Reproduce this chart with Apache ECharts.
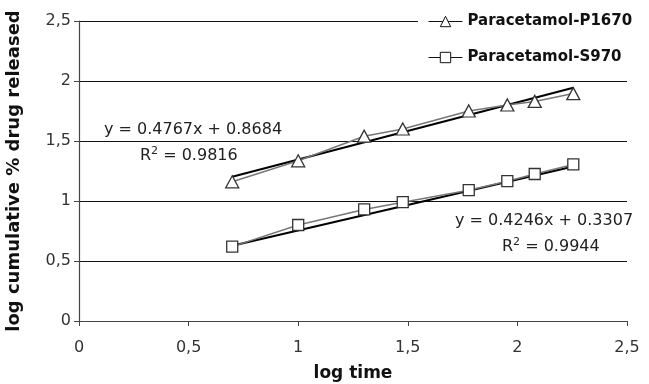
<!DOCTYPE html>
<html>
<head>
<meta charset="utf-8">
<script src="https://cdn.jsdelivr.net/npm/echarts@6/dist/echarts.min.js"></script>
<style>
  html, body { margin: 0; padding: 0; background: #fff; }
  #chart { width: 649px; height: 384px; }
</style>
</head>
<body>
<div id="chart"></div>
<script>
// log of sampling time (5, 10, 20, 30, 60, 90, 120, 180 min)
const logTime = [0.699, 1.0, 1.301, 1.477, 1.778, 1.954, 2.079, 2.255];
const p1670 = [1.16, 1.335, 1.54, 1.60, 1.75, 1.80, 1.83, 1.895];
const s970 = [0.62, 0.80, 0.93, 0.99, 1.09, 1.165, 1.225, 1.305];

// trendline coefficients as printed on the chart
const fitP1670 = { slope: 0.4767, intercept: 0.8684, r2: "0.9816" };
const fitS970 = { slope: 0.4246, intercept: 0.3307, r2: "0.9944" };

const FONT = "DejaVu Sans";

function pairs(xs, ys) {
    return xs.map((x, i) => [x, ys[i]]);
}

// trendline spans the range of the measured points
function trend(fit) {
    const x0 = logTime[0];
    const x1 = logTime[logTime.length - 1];
    return [[x0, fit.slope * x0 + fit.intercept], [x1, fit.slope * x1 + fit.intercept]];
}

function comma(v) {
    return String(v).replace(".", ",");
}

function eqText(fit) {
    return "y = " + fit.slope + "x + " + fit.intercept;
}

function r2Text(fit) {
    return "{a|R}{s|2}{a| = " + fit.r2 + "}";
}

const r2Rich = {
    a: { font: "16px " + FONT, fill: "#222" },
    s: { font: "11px " + FONT, fill: "#222", verticalAlign: "top", padding: [0, 0, 8, 0] }
};

const chart = echarts.init(document.getElementById("chart"));

const option = {
    animation: false,
    backgroundColor: "#fff",
    grid: { left: 79, right: 22, top: 21, bottom: 63, outerBoundsMode: "none", containLabel: false },
    legend: {
        orient: "vertical",
        left: 418,
        top: 10,
        padding: [4, 4, 4, 10],
        backgroundColor: "#fff",
        itemWidth: 34,
        itemHeight: 13,
        itemGap: 21,
        data: ["Paracetamol-P1670", "Paracetamol-S970"],
        lineStyle: { color: "#111", width: 1 },
        itemStyle: { color: "#fff", borderColor: "#111", borderWidth: 1 },
        textStyle: { fontFamily: FONT, fontWeight: "bold", fontSize: 15, color: "#111" }
    },
    xAxis: {
        type: "value",
        min: 0,
        max: 2.5,
        interval: 0.5,
        name: "log time",
        nameLocation: "middle",
        nameGap: 44,
        nameTextStyle: { fontFamily: FONT, fontWeight: "bold", fontSize: 17, color: "#111" },
        axisLine: { show: true, lineStyle: { color: "#444", width: 1.2 } },
        axisTick: { show: true, length: 5, lineStyle: { color: "#444" } },
        axisLabel: { fontFamily: FONT, fontSize: 16, color: "#333", margin: 19, formatter: comma },
        splitLine: { show: false }
    },
    yAxis: {
        type: "value",
        min: 0,
        max: 2.5,
        interval: 0.5,
        name: "log cumulative % drug released",
        nameLocation: "middle",
        nameGap: 56,
        nameTextStyle: { fontFamily: FONT, fontWeight: "bold", fontSize: 18, color: "#111" },
        axisLine: { show: true, lineStyle: { color: "#444", width: 1.2 } },
        axisTick: { show: true, length: 5, lineStyle: { color: "#444" } },
        axisLabel: { fontFamily: FONT, fontSize: 16, color: "#333", margin: 8, formatter: comma },
        splitLine: { show: true, lineStyle: { color: "#111", width: 1.2 } }
    },
    series: [
        {
            name: "Paracetamol-P1670",
            type: "line",
            data: pairs(logTime, p1670),
            symbol: "triangle",
            symbolSize: [13, 12],
            z: 3,
            lineStyle: { color: "#777", width: 1.5 },
            itemStyle: { color: "#fff", borderColor: "#333", borderWidth: 1.3 }
        },
        {
            name: "Paracetamol-S970",
            type: "line",
            data: pairs(logTime, s970),
            symbol: "rect",
            symbolSize: 11,
            z: 3,
            lineStyle: { color: "#777", width: 1.5 },
            itemStyle: { color: "#fff", borderColor: "#333", borderWidth: 1.3 }
        },
        {
            name: "trend P1670",
            type: "line",
            data: trend(fitP1670),
            showSymbol: false,
            z: 2,
            lineStyle: { color: "#000", width: 2 }
        },
        {
            name: "trend S970",
            type: "line",
            data: trend(fitS970),
            showSymbol: false,
            z: 2,
            lineStyle: { color: "#000", width: 2 }
        }
    ],
    graphic: [
        {
            type: "text",
            left: 104,
            top: 122,
            style: { text: eqText(fitP1670), font: "16px " + FONT, fill: "#222" }
        },
        {
            type: "text",
            left: 140,
            top: 146,
            style: { text: r2Text(fitP1670), rich: r2Rich }
        },
        {
            type: "text",
            left: 455,
            top: 213,
            style: { text: eqText(fitS970), font: "16px " + FONT, fill: "#222" }
        },
        {
            type: "text",
            left: 502,
            top: 237,
            style: { text: r2Text(fitS970), rich: r2Rich }
        }
    ]
};

chart.setOption(option);
</script>
</body>
</html>
